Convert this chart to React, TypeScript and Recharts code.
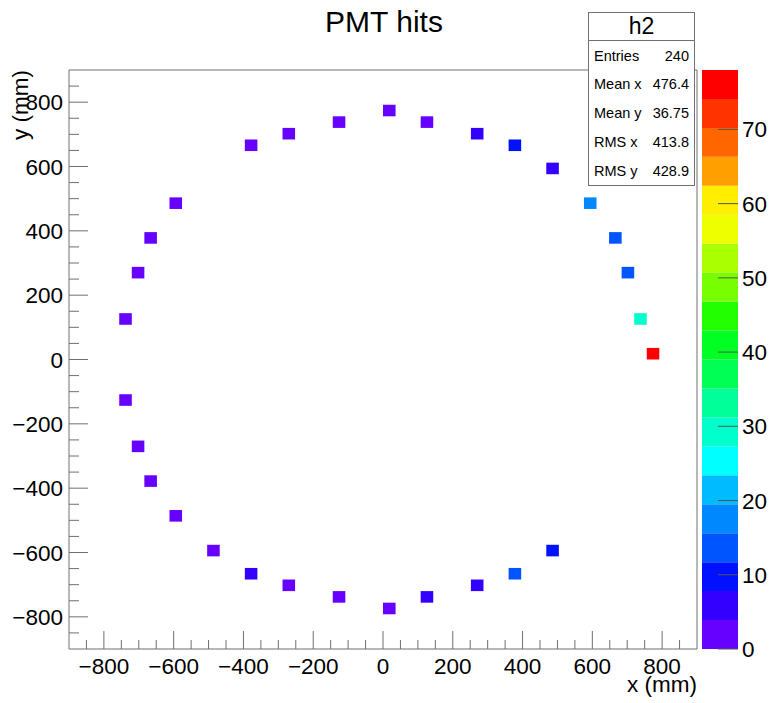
import React from 'react';
import { ScatterChart, Scatter, XAxis, YAxis, ReferenceArea, BarChart, Bar } from 'recharts';

// ---------------- data ----------------
const cellX = [18, 126, 270, 378, 486, 594, 666, 702, 738, 774,
  -738, -702, -666, -594, -378, -270, -126,
  -738, -702, -666, -594, -486, -378, -270, -126, 18,
  126, 270, 378, 486];
const cellY = [774, 738, 702, 666, 594, 486, 378, 270, 126, 18,
  126, 270, 378, 486, 666, 702, 738,
  -126, -270, -378, -486, -594, -666, -702, -738, -774,
  -738, -702, -666, -594];
const cellHits = [2, 3, 5, 9, 6, 17, 13, 13, 29, 75,
  2, 2, 2, 2, 2, 2, 2,
  2, 2, 2, 2, 2, 5, 2, 2, 2,
  5, 5, 13, 10];

const xMajorTicks = [-800, -600, -400, -200, 0, 200, 400, 600, 800];
const xMinorTicks = [-850, -750, -700, -650, -550, -500, -450, -350, -300, -250, -150, -100, -50,
  50, 100, 150, 250, 300, 350, 450, 500, 550, 650, 700, 750, 850];
const yMajorTicks = [-800, -600, -400, -200, 0, 200, 400, 600, 800];
const yMinorTicks = [-850, -750, -700, -650, -550, -500, -450, -350, -300, -250, -150, -100, -50,
  50, 100, 150, 250, 300, 350, 450, 500, 550, 650, 700, 750, 850];

const zTicks = [0, 10, 20, 30, 40, 50, 60, 70];
const zMax = 78;
const paletteColors = [
  '#6600ff', '#3300ff', '#0011ff', '#0055ff', '#0088ff',
  '#00bbff', '#00ffff', '#00ffcc', '#00ff99', '#00ff55',
  '#00ff22', '#22ff00', '#77ff00', '#aaff00', '#eeff00',
  '#ffee00', '#ffa000', '#ff6600', '#ff3300', '#ff0000',
];

const statsTitle = 'h2';
const statsLabels = ['Entries', 'Mean x', 'Mean y', 'RMS x', 'RMS y'];
const statsValues = ['240', '476.4', '36.75', '413.8', '428.9'];

const titleText = 'PMT hits';
const xTitle = 'x (mm)';
const yTitle = 'y (mm)';

// ---------------- layout ----------------
const W = 771;
const H = 703;
const PL = 69, PR = 697, PT = 70, PB = 649;
const AX_MIN = -900, AX_MAX = 900;
const BIN = 36;
const AXIS_COLOR = '#707070';
const FONT = '"Liberation Sans", Arial, Helvetica, sans-serif';
const LABEL_SIZE = 22.5;

const cellW = (BIN * (PR - PL)) / (AX_MAX - AX_MIN);
const cellH = (BIN * (PB - PT)) / (AX_MAX - AX_MIN);

const cells = cellX.map((x, i) => ({ x, y: cellY[i], hits: cellHits[i] }));
const allXTicks = [...xMajorTicks, ...xMinorTicks].sort((a, b) => a - b);
const allYTicks = [...yMajorTicks, ...yMinorTicks].sort((a, b) => a - b);
const bandRow: Record<string, any> = { name: 'z' };
paletteColors.forEach((_, i) => {
  bandRow['b' + i] = zMax / paletteColors.length;
});
const bandData = [bandRow];

const colorFor = (v: number) =>
  paletteColors[Math.min(paletteColors.length - 1, Math.max(0, Math.floor((v / zMax) * paletteColors.length)))];
const fmt = (v: number) => (v < 0 ? '\u2212' + Math.abs(v) : String(v));

const CellShape = (props: any) => {
  const { cx, cy, payload } = props;
  if (cx == null || cy == null) return null;
  return <rect x={cx - cellW / 2} y={cy - cellH / 2} width={cellW} height={cellH} fill={colorFor(payload.hits)} />;
};

const XTick = (props: any) => {
  const { x, y, payload } = props;
  const v = payload.value;
  const major = xMajorTicks.includes(v);
  return (
    <g>
      <line x1={x} x2={x} y1={y} y2={y - (major ? 18 : 9)} stroke={AXIS_COLOR} strokeWidth={1} />
      {major && (
        <text x={x} y={y + 25} textAnchor="middle" fontSize={LABEL_SIZE} fontFamily={FONT} fill="#000">
          {fmt(v)}
        </text>
      )}
    </g>
  );
};

const YTick = (props: any) => {
  const { x, y, payload } = props;
  const v = payload.value;
  const major = yMajorTicks.includes(v);
  return (
    <g>
      <line x1={x} x2={x + (major ? 19 : 10)} y1={y} y2={y} stroke={AXIS_COLOR} strokeWidth={1} />
      {major && (
        <text x={x - 6} y={y + 8} textAnchor="end" fontSize={LABEL_SIZE} fontFamily={FONT} fill="#000">
          {fmt(v)}
        </text>
      )}
    </g>
  );
};

const ZTick = (props: any) => {
  const { x, y, payload } = props;
  return (
    <g>
      <line x1={x - 20} x2={x} y1={y} y2={y} stroke="#555" strokeWidth={1} />
      <text x={x + 4} y={y + 8} textAnchor="start" fontSize={LABEL_SIZE} fontFamily={FONT} fill="#000">
        {payload.value}
      </text>
    </g>
  );
};

export default function App() {
  return (
    <div style={{ position: 'absolute', left: 0, top: 0, width: W, height: H, background: '#fff', overflow: 'hidden' }}>
      <div style={{ position: 'absolute', left: 0, top: 0 }}>
        <ScatterChart width={W} height={H} margin={{ top: PT, right: W - PR, bottom: 0, left: 0 }}>
          <XAxis
            type="number"
            dataKey="x"
            domain={[AX_MIN, AX_MAX]}
            ticks={allXTicks}
            interval={0}
            tick={<XTick />}
            tickLine={false}
            tickSize={0}
            tickMargin={0}
            axisLine={false}
            height={H - PB}
            allowDataOverflow
          />
          <YAxis
            type="number"
            dataKey="y"
            domain={[AX_MIN, AX_MAX]}
            ticks={allYTicks}
            interval={0}
            tick={<YTick />}
            tickLine={false}
            tickSize={0}
            tickMargin={0}
            axisLine={false}
            width={PL}
            allowDataOverflow
          />
          <ReferenceArea
            x1={AX_MIN}
            x2={AX_MAX}
            y1={AX_MIN}
            y2={AX_MAX}
            fill="none"
            fillOpacity={0}
            stroke={AXIS_COLOR}
            strokeWidth={1}
            ifOverflow="visible"
          />
          <Scatter data={cells} shape={<CellShape />} isAnimationActive={false} />
        </ScatterChart>
      </div>
      <div style={{ position: 'absolute', left: 702, top: 0 }}>
        <BarChart
          width={69}
          height={H}
          data={bandData}
          margin={{ top: PT, right: 0, bottom: H - PB, left: 0 }}
          barCategoryGap={0}
          barGap={0}
          style={{ overflow: 'visible' }}
        >
          <XAxis type="category" dataKey="name" hide height={0} />
          <YAxis
            type="number"
            orientation="right"
            domain={[0, zMax]}
            ticks={zTicks}
            interval={0}
            tick={<ZTick />}
            tickLine={false}
            tickSize={0}
            tickMargin={0}
            axisLine={false}
            width={33}
            allowDataOverflow
          />
          {paletteColors.map((c, i) => (
            <Bar key={i} dataKey={'b' + i} stackId="z" fill={c} isAnimationActive={false} />
          ))}
        </BarChart>
      </div>
      <svg width={W} height={H} style={{ position: 'absolute', left: 0, top: 0, pointerEvents: 'none' }}>
        <text x={384} y={32} textAnchor="middle" fontSize={30} fontFamily={FONT} fill="#000">{titleText}</text>
        <text x={PR} y={692} textAnchor="end" fontSize={LABEL_SIZE} fontFamily={FONT} fill="#000">{xTitle}</text>
        <text x={28} y={PT} textAnchor="end" fontSize={LABEL_SIZE} fontFamily={FONT} fill="#000" transform={`rotate(-90 28 ${PT})`}>{yTitle}</text>
        <rect x={588.5} y={12.5} width={106} height={173} fill="#fff" stroke={AXIS_COLOR} strokeWidth={1} />
        <line x1={588.5} x2={694.5} y1={40.5} y2={40.5} stroke={AXIS_COLOR} strokeWidth={1} />
        <text x={641.5} y={34} textAnchor="middle" fontSize={23} fontFamily={FONT} fill="#000">{statsTitle}</text>
        {statsLabels.map((l, i) => (
          <g key={l}>
            <text x={594} y={60.5 + i * 28.8} fontSize={14.5} fontFamily={FONT} fill="#000">{l}</text>
            <text x={689} y={60.5 + i * 28.8} textAnchor="end" fontSize={14.5} fontFamily={FONT} fill="#000">{statsValues[i]}</text>
          </g>
        ))}
      </svg>
    </div>
  );
}
